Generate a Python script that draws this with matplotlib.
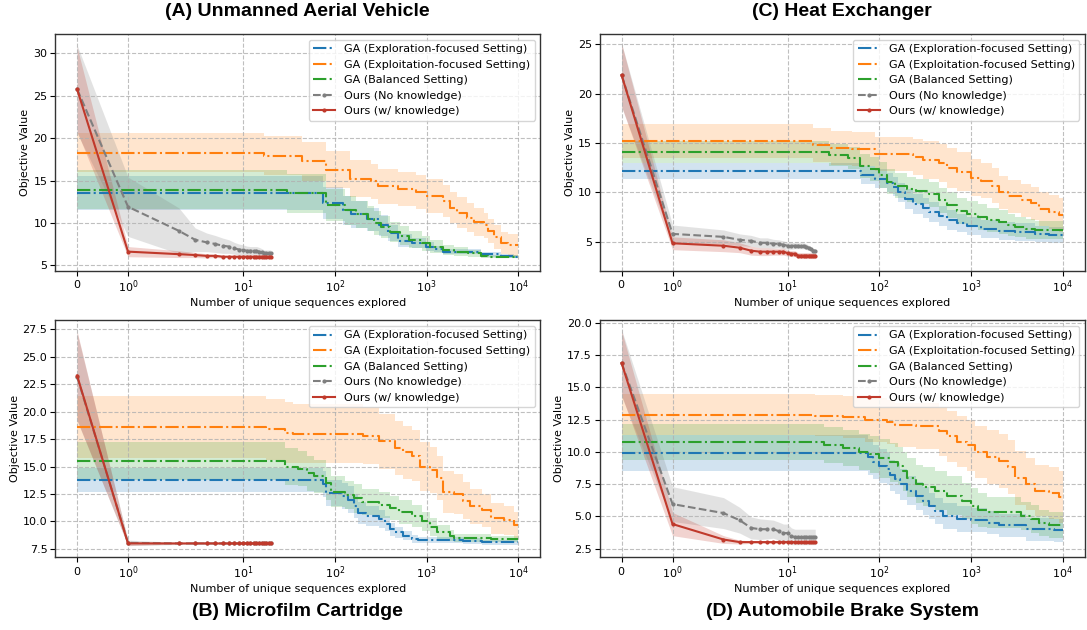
import matplotlib
matplotlib.use("Agg")
import matplotlib.pyplot as plt
import numpy as np
from matplotlib.ticker import NullLocator

# number of unique sequences for our method (one point per query)
ours_x = list(range(21))

# ---------------- (A) Unmanned Aerial Vehicle ----------------
a_explore_x = [0, 74, 124, 150, 227, 300, 380, 494, 697, 980, 1200, 1510, 3900, 6500, 9000, 10000]
a_explore = [13.5, 12.3, 11.5, 11.0, 10.4, 9.7, 8.8, 7.9, 7.6, 7.2, 6.9, 6.6, 6.3, 6.1, 6.0, 6.0]
a_explore_std = [2.0, 1.9, 1.7, 1.6, 1.4, 1.2, 1.0, 0.8, 0.6, 0.5, 0.4, 0.3, 0.3, 0.2, 0.15, 0.15]
a_exploit_x = [0, 17, 44, 80, 147, 247, 294, 493, 759, 980, 1510, 1800, 2140, 2760, 3290, 4270, 4640,
               5500, 6550, 7770, 10000]
a_exploit = [18.3, 17.9, 17.3, 16.3, 15.2, 14.9, 14.3, 14.0, 13.6, 13.2, 12.6, 11.8, 11.2, 10.6, 10.1,
             9.7, 9.0, 8.3, 7.6, 7.4, 7.4]
a_exploit_std = [2.3, 2.3, 2.3, 2.2, 2.2, 2.1, 2.1, 2.0, 2.0, 2.0, 1.9, 1.8, 1.8, 1.7, 1.6, 1.5, 1.4,
                 1.4, 1.3, 1.3, 1.3]
a_balanced_x = [0, 30, 80, 130, 170, 230, 270, 320, 400, 520, 650, 900, 1100, 1500, 2000, 2800, 3900,
                4700, 10000]
a_balanced = [13.9, 13.5, 12.1, 11.5, 11.0, 10.5, 10.0, 9.5, 8.9, 8.5, 8.0, 7.6, 7.2, 6.8, 6.6, 6.4,
              6.1, 6.0, 6.0]
a_balanced_std = [2.3, 2.3, 1.9, 1.7, 1.6, 1.5, 1.4, 1.3, 1.2, 1.1, 1.0, 0.9, 0.8, 0.6, 0.5, 0.4,
                  0.3, 0.2, 0.1]
a_nok = [25.8, 11.9, 9.05, 8.0, 7.7, 7.5, 7.3, 7.2, 7.0, 6.85, 6.8, 6.7, 6.7, 6.7, 6.7, 6.6, 6.5,
         6.4, 6.4, 6.4, 6.4]
a_nok_std = [5.2, 3.5, 2.7, 1.4, 1.1, 1.0, 0.9, 0.8, 0.7, 0.65, 0.6, 0.55, 0.5, 0.5, 0.5, 0.5, 0.45,
             0.4, 0.4, 0.4, 0.4]
a_wk = [25.8, 6.6, 6.3, 6.2, 6.1, 6.1, 6.0, 6.0, 6.0, 6.0, 6.0, 6.0, 6.0, 6.0, 6.0, 6.0, 6.0, 6.0,
        6.0, 6.0, 6.0]
a_wk_std = [5.0, 0.6, 0.4, 0.3, 0.25, 0.2, 0.15, 0.1, 0.1, 0.1, 0.1, 0.08, 0.08, 0.08, 0.08, 0.08,
            0.08, 0.08, 0.08, 0.08, 0.08]
a_ylim = (4.37, 32.3)

# ---------------- (B) Microfilm Cartridge ----------------
b_explore_x = [0, 75, 80, 120, 140, 160, 180, 220, 300, 350, 400, 450, 550, 700, 800, 2500, 4000, 10000]
b_explore = [13.8, 13.4, 12.6, 12.3, 12.0, 11.4, 10.8, 10.5, 10.2, 9.8, 9.3, 9.0, 8.7, 8.4, 8.3, 8.2,
             8.1, 8.1]
b_explore_std = [1.1, 1.2, 1.2, 1.2, 1.2, 1.1, 1.0, 0.9, 0.8, 0.7, 0.6, 0.5, 0.4, 0.35, 0.3, 0.25,
                 0.2, 0.2]
b_exploit_x = [0, 18, 29, 35, 205, 300, 450, 550, 700, 850, 1100, 1300, 1500, 2000, 2500, 3000, 4000,
               5000, 7000, 9000, 10000]
b_exploit = [18.6, 18.4, 18.1, 18.0, 17.8, 17.3, 16.7, 16.3, 16.0, 15.0, 14.7, 14.0, 12.7, 12.5, 11.9,
             11.4, 11.0, 10.3, 10.1, 9.7, 9.7]
b_exploit_std = [2.8, 2.8, 2.8, 2.7, 2.6, 2.5, 2.5, 2.4, 2.3, 2.2, 2.1, 2.0, 1.9, 1.8, 1.7, 1.6, 1.5,
                 1.4, 1.3, 1.2, 1.2]
b_balanced_x = [0, 29, 40, 50, 60, 80, 90, 130, 160, 200, 300, 400, 500, 700, 900, 1100, 1300, 1800,
                2000, 5000, 10000]
b_balanced = [15.5, 15.0, 14.8, 14.4, 14.1, 13.5, 12.7, 12.4, 12.1, 11.8, 11.5, 11.2, 10.9, 10.5,
              10.0, 9.5, 9.0, 8.7, 8.5, 8.4, 8.4]
b_balanced_std = [1.7, 1.7, 1.6, 1.6, 1.5, 1.5, 1.4, 1.3, 1.3, 1.2, 1.2, 1.1, 1.1, 1.0, 0.9, 0.8, 0.7,
                  0.5, 0.4, 0.3, 0.3]
b_nok = [23.2, 8.05, 8.0, 8.0, 8.0, 8.0, 8.0, 8.0, 8.0, 8.0, 8.0, 8.0, 8.0, 8.0, 8.0, 8.0, 8.0, 8.0,
         8.0, 8.0, 8.0]
b_nok_std = [4.0, 0.25, 0.1, 0.05, 0.05, 0.05, 0.05, 0.05, 0.05, 0.05, 0.05, 0.05, 0.05, 0.05, 0.05,
             0.05, 0.05, 0.05, 0.05, 0.05, 0.05]
b_wk = [23.3, 8.0, 8.0, 8.0, 8.0, 8.0, 8.0, 8.0, 8.0, 8.0, 8.0, 8.0, 8.0, 8.0, 8.0, 8.0, 8.0, 8.0,
        8.0, 8.0, 8.0]
b_wk_std = [4.05, 0.2, 0.05, 0.05, 0.05, 0.05, 0.05, 0.05, 0.05, 0.05, 0.05, 0.05, 0.05, 0.05, 0.05,
            0.05, 0.05, 0.05, 0.05, 0.05, 0.05]
b_ylim = (6.77, 28.32)

# ---------------- (C) Heat Exchanger ----------------
c_explore_x = [0, 63, 90, 120, 140, 160, 190, 230, 300, 350, 450, 550, 700, 900, 1300, 2000, 3000,
               5000, 7000, 10000]
c_explore = [12.2, 11.8, 11.4, 11.0, 10.6, 10.0, 9.3, 8.8, 8.4, 8.0, 7.6, 7.2, 6.9, 6.6, 6.3, 6.1,
             6.0, 5.8, 5.7, 5.7]
c_explore_std = [0.8, 0.9, 1.0, 1.0, 1.0, 1.0, 1.0, 1.0, 1.0, 1.0, 1.0, 1.0, 0.9, 0.9, 0.9, 0.9, 0.9,
                 0.8, 0.8, 0.8]
c_exploit_x = [0, 18.7, 30, 50, 90, 230, 300, 450, 550, 700, 1000, 1300, 1700, 2000, 2500, 3500, 4500,
               5500, 7000, 9000, 10000]
c_exploit = [15.2, 14.8, 14.5, 14.4, 13.9, 13.6, 13.3, 13.0, 12.5, 12.1, 11.5, 11.2, 10.7, 10.0, 9.6,
             9.2, 8.9, 8.3, 8.0, 7.7, 7.7]
c_exploit_std = [1.7, 1.7, 1.7, 1.7, 1.7, 1.8, 1.9, 1.9, 2.0, 2.0, 1.9, 1.8, 1.8, 1.7, 1.7, 1.7, 1.7,
                 1.7, 1.7, 1.7, 1.7]
c_balanced_x = [0, 28, 45, 62, 80, 100, 120, 150, 200, 250, 350, 450, 550, 700, 900, 1200, 1500, 2000,
                2500, 3000, 4000, 5000, 10000]
c_balanced = [14.1, 13.8, 13.5, 12.7, 12.4, 11.8, 11.1, 10.7, 10.3, 10.1, 9.8, 9.2, 8.7, 8.1, 7.8,
              7.5, 7.2, 7.0, 6.7, 6.5, 6.3, 6.2, 6.2]
c_balanced_std = [1.1, 1.1, 1.1, 1.2, 1.2, 1.3, 1.3, 1.3, 1.3, 1.3, 1.3, 1.3, 1.3, 1.3, 1.3, 1.3, 1.2,
                  1.2, 1.1, 1.0, 1.0, 0.9, 0.9]
c_nok = [21.9, 5.8, 5.5, 5.2, 5.1, 4.9, 4.9, 4.8, 4.8, 4.7, 4.6, 4.6, 4.6, 4.6, 4.6, 4.6, 4.5, 4.4,
         4.3, 4.1, 4.1]
c_nok_std = [3.2, 0.9, 0.7, 0.6, 0.55, 0.5, 0.5, 0.45, 0.4, 0.4, 0.35, 0.35, 0.3, 0.3, 0.3, 0.3, 0.3,
             0.25, 0.2, 0.2, 0.2]
c_wk = [21.9, 4.85, 4.6, 4.4, 4.1, 4.0, 4.0, 4.0, 4.0, 4.0, 3.85, 3.8, 3.8, 3.6, 3.6, 3.6, 3.6, 3.6,
        3.6, 3.6, 3.6]
c_wk_std = [3.2, 0.65, 0.6, 0.5, 0.45, 0.4, 0.4, 0.35, 0.35, 0.35, 0.3, 0.3, 0.3, 0.3, 0.3, 0.3, 0.3,
            0.3, 0.3, 0.3, 0.3]
c_ylim = (2.09, 26.05)

# ---------------- (D) Automobile Brake System ----------------
d_explore_x = [0, 75, 85, 100, 120, 130, 150, 170, 200, 250, 300, 350, 400, 500, 700, 1000, 1500, 2000,
               4000, 8000, 10000]
d_explore = [9.9, 9.6, 9.2, 8.9, 8.7, 8.2, 7.9, 7.5, 7.0, 6.6, 6.2, 5.8, 5.4, 5.0, 4.8, 4.7, 4.5, 4.3,
             4.0, 3.9, 3.9]
d_explore_std = [1.4, 1.4, 1.3, 1.3, 1.3, 1.2, 1.2, 1.2, 1.1, 1.1, 1.1, 1.0, 1.0, 1.0, 1.0, 0.95, 0.9,
                 0.9, 0.9, 0.9, 0.9]
d_exploit_x = [0, 20, 40, 70, 120, 150, 250, 450, 550, 700, 900, 1100, 1500, 2000, 2500, 3000, 4000,
               5000, 7000, 9000, 10000]
d_exploit = [12.9, 12.8, 12.7, 12.5, 12.3, 12.1, 12.0, 11.6, 11.2, 10.8, 10.5, 10.0, 9.6, 9.3, 8.8,
             8.0, 7.5, 7.0, 6.8, 6.5, 6.5]
d_exploit_std = [1.6, 1.6, 1.6, 1.7, 1.7, 1.7, 1.8, 1.9, 2.0, 2.0, 2.0, 2.0, 2.1, 2.1, 2.1, 2.1, 2.0,
                 2.0, 2.0, 2.0, 2.0]
d_balanced_x = [0, 25, 40, 60, 80, 100, 130, 160, 180, 200, 250, 300, 400, 550, 800, 1000, 1200, 1500,
                3500, 4500, 5500, 7000, 10000]
d_balanced = [10.8, 10.5, 10.3, 10.0, 9.8, 9.5, 9.2, 8.9, 8.5, 8.0, 7.5, 7.3, 7.0, 6.6, 6.2, 5.8, 5.5,
              5.3, 5.0, 4.8, 4.5, 4.3, 4.3]
d_balanced_std = [1.4, 1.4, 1.4, 1.4, 1.4, 1.5, 1.5, 1.5, 1.5, 1.5, 1.5, 1.5, 1.5, 1.5, 1.4, 1.4, 1.3,
                  1.2, 1.1, 1.1, 1.0, 1.0, 1.0]
d_nok = [16.9, 5.95, 5.25, 4.7, 4.1, 4.0, 4.0, 4.0, 3.85, 3.7, 3.7, 3.45, 3.4, 3.4, 3.4, 3.4, 3.4, 3.4,
         3.4, 3.4, 3.4]
d_nok_std = [2.6, 1.35, 1.2, 1.0, 0.85, 0.8, 0.75, 0.7, 0.7, 0.7, 0.7, 0.65, 0.6, 0.6, 0.6, 0.6, 0.6,
             0.6, 0.6, 0.6, 0.6]
d_wk = [16.9, 4.4, 3.2, 3.0, 3.0, 3.0, 3.0, 3.0, 3.0, 3.0, 3.0, 3.0, 3.0, 3.0, 3.0, 3.0, 3.0, 3.0,
        3.0, 3.0, 3.0]
d_wk_std = [2.5, 0.9, 0.3, 0.15, 0.1, 0.1, 0.1, 0.1, 0.1, 0.1, 0.1, 0.1, 0.1, 0.1, 0.1, 0.1, 0.1, 0.1,
            0.1, 0.1, 0.1]
d_ylim = (1.85, 20.2)

titles = ["(A) Unmanned Aerial Vehicle", "(C) Heat Exchanger",
          "(B) Microfilm Cartridge", "(D) Automobile Brake System"]
labels = ["GA (Exploration-focused Setting)", "GA (Exploitation-focused Setting)",
          "GA (Balanced Setting)", "Ours (No knowledge)", "Ours (w/ knowledge)"]
xticks = [0, 1, 10, 100, 1000, 10000]

blue, orange, green, gray, red = "#1f77b4", "#ff7f0e", "#2ca02c", "#7f7f7f", "#c0392b"


def ga_curve(ax, x, y, s, color, label):
    x = np.array(x, dtype=float)
    y = np.array(y)
    s = np.array(s)
    ax.fill_between(x, y - s, y + s, step="post", color=color, alpha=0.2, linewidth=0)
    ax.plot(x, y, drawstyle="steps-post", linestyle="-.", color=color, linewidth=1.5, label=label)


def ours_curve(ax, y, s, color, ls, label):
    x = np.array(ours_x, dtype=float)
    y = np.array(y)
    s = np.array(s)
    ax.fill_between(x, y - s, y + s, color=color, alpha=0.22, linewidth=0)
    ax.plot(x, y, linestyle=ls, color=color, linewidth=1.5, marker="o", markersize=2, label=label)


def panel(ax, ga, nok, nok_s, wk, wk_s, ylim):
    cols = [blue, orange, green]
    for (x, y, s), c, lab in zip(ga, cols, labels[:3]):
        ga_curve(ax, x, y, s, c, lab)
    ours_curve(ax, nok, nok_s, gray, "--", labels[3])
    ours_curve(ax, wk, wk_s, red, "-", labels[4])
    ax.set_xscale("symlog", linthresh=2)
    ax.set_xticks(xticks)
    ax.xaxis.set_minor_locator(NullLocator())
    ax.set_ylim(*ylim)
    ax.grid(True, linestyle="--", color="#b0b0b0", linewidth=0.8, alpha=0.8)
    ax.set_xlabel("Number of unique sequences explored", fontsize=8, labelpad=2)
    ax.set_ylabel("Objective Value", fontsize=8, labelpad=2)
    ax.tick_params(labelsize=8, pad=2)
    for sp in ax.spines.values():
        sp.set_color("#333333")
        sp.set_linewidth(1.0)
    ax.legend(loc="upper right", fontsize=8, handlelength=2.0, borderpad=0.4, labelspacing=0.5)


fig, axes = plt.subplots(2, 2, figsize=(10.87, 6.3), dpi=100)
plt.subplots_adjust(left=0.0506, right=0.998, top=0.946, bottom=0.116, wspace=0.122, hspace=0.211)

panel(axes[0, 0], [(a_explore_x, a_explore, a_explore_std), (a_exploit_x, a_exploit, a_exploit_std),
                   (a_balanced_x, a_balanced, a_balanced_std)], a_nok, a_nok_std, a_wk, a_wk_std, a_ylim)
panel(axes[0, 1], [(c_explore_x, c_explore, c_explore_std), (c_exploit_x, c_exploit, c_exploit_std),
                   (c_balanced_x, c_balanced, c_balanced_std)], c_nok, c_nok_std, c_wk, c_wk_std, c_ylim)
panel(axes[1, 0], [(b_explore_x, b_explore, b_explore_std), (b_exploit_x, b_exploit, b_exploit_std),
                   (b_balanced_x, b_balanced, b_balanced_std)], b_nok, b_nok_std, b_wk, b_wk_std, b_ylim)
panel(axes[1, 1], [(d_explore_x, d_explore, d_explore_std), (d_exploit_x, d_exploit, d_exploit_std),
                   (d_balanced_x, d_balanced, d_balanced_std)], d_nok, d_nok_std, d_wk, d_wk_std, d_ylim)

# panel titles: top row above, bottom row below
for ax, t, top in zip([axes[0, 0], axes[0, 1], axes[1, 0], axes[1, 1]], titles, [True, True, False, False]):
    pos = ax.get_position()
    cx = (pos.x0 + pos.x1) / 2
    y = 0.9825 if top else 0.0286
    fig.text(cx, y, t, ha="center", va="center", fontsize=14, fontweight="bold",
             family=["Liberation Sans", "DejaVu Sans"])

fig.savefig("out.png", dpi=100)
